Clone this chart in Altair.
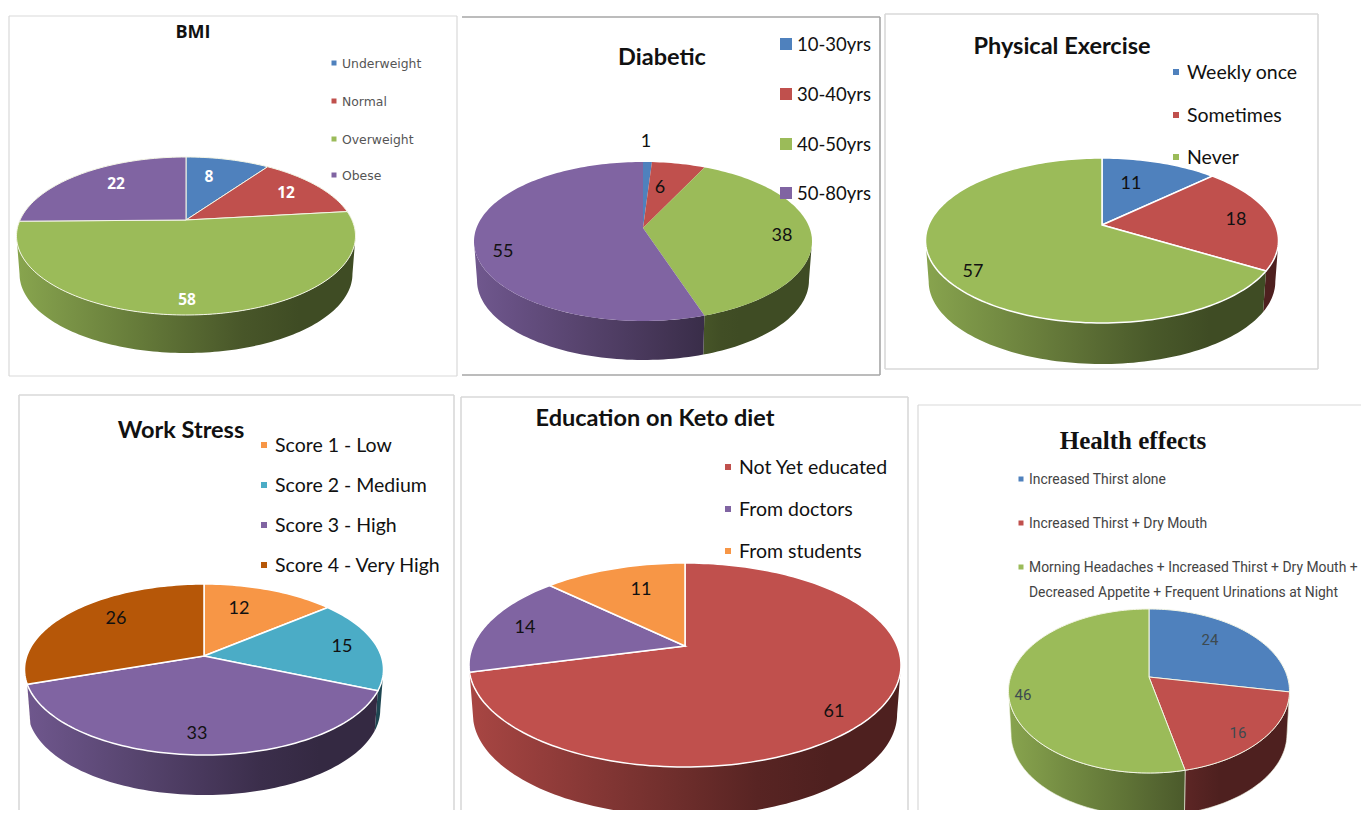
import math
import altair as alt

W, H = 1353, 802
OX, OY = 8, 8

BLUE, RED, GREEN, PURPLE = "#4F81BD", "#C0504D", "#9BBB59", "#8064A2"
TEAL, ORANGE, BURNT = "#4BACC6", "#F79646", "#B65708"

# ---------- chart values ----------
bmi_values = [8, 12, 58, 22]
bmi_names = ["Underweight", "Normal", "Overweight", "Obese"]
diabetic_values = [1, 6, 38, 55]
diabetic_names = ["10-30yrs", "30-40yrs", "40-50yrs", "50-80yrs"]
exercise_values = [11, 18, 57]
exercise_names = ["Weekly once", "Sometimes", "Never"]
stress_values = [12, 15, 33, 26]
stress_names = ["Score 1 - Low", "Score 2 - Medium", "Score 3 - High", "Score 4 - Very High"]
keto_values = [61, 14, 11]
keto_names = ["Not Yet educated", "From doctors", "From students"]
health_values = [24, 16, 46]
health_names = ["Increased Thirst alone", "Increased Thirst + Dry Mouth",
                "Morning Headaches + Increased Thirst + Dry Mouth +"]
health_name_cont = "Decreased Appetite + Frequent Urinations at Night"

# ---------- layout: pie frame (apex x, apex y, left, right, top, near edge, wall bottom) ----------
PIES = [
    dict(title="BMI", values=bmi_values, names=bmi_names, colors=[BLUE, RED, GREEN, PURPLE], flat=True,
         frame=(186, 220, 18, 357, 157, 315, 353), edge="#F4F6E6", ew=1.0, tfont="Open Sans", tsize=18,
         tpos=(193, 32), lfont="DejaVu Sans", lsize=12.4, lcolor="#555555", sw=22, lx=342, sx=334,
         ly=[63, 101, 139, 175], vcolor="#FFFFFF", vsize=15.5, vfont="Open Sans", vweight="bold",
         vpos=[(209, 176), (286, 192), (187, 299), (116, 183)]),
    dict(title="Diabetic", values=diabetic_values, names=diabetic_names, colors=[BLUE, RED, GREEN, PURPLE],
         frame=(643, 228, 474, 812, 162, 321, 360), edge=None, ew=0, tfont="Lato", tsize=23.5,
         tpos=(662, 57), lfont="Lato", lsize=18.5, lcolor="#111111", sw=144, lx=797, sx=786,
         ly=[44, 94, 144, 193], vcolor="#111111", vsize=18, vfont="Lato", vweight="normal",
         vpos=[(646, 141), (660, 187), (782, 235), (503, 251)]),
    dict(title="Physical Exercise", values=exercise_values, names=exercise_names, colors=[BLUE, RED, GREEN],
         frame=(1102, 225, 925, 1278, 158, 323, 364), edge="#FFFFFF", ew=1.5, tfont="Lato", tsize=23.5,
         tpos=(1062, 46), lfont="Lato", lsize=19.5, lcolor="#111111", sw=40, lx=1187, sx=1176,
         ly=[72, 115, 157], vcolor="#111111", vsize=18, vfont="Lato", vweight="normal",
         vpos=[(1131, 183), (1236, 219), (973, 271)]),
    dict(title="Work Stress", values=stress_values, names=stress_names, colors=[ORANGE, TEAL, PURPLE, BURNT],
         wall_hi=251.2,
         frame=(204, 656, 24, 383, 584, 755, 795), edge="#FFFFFF", ew=1.5, tfont="Lato", tsize=23.5,
         tpos=(181, 430), lfont="Lato", lsize=19.5, lcolor="#111111", sw=40, lx=275, sx=264,
         ly=[445, 485, 525, 565], vcolor="#111111", vsize=18, vfont="Lato", vweight="normal",
         vpos=[(239, 608), (342, 646), (197, 733), (116, 618)]),
    dict(title="Education on Keto diet", values=keto_values, names=keto_names, colors=[RED, PURPLE, ORANGE],
         wall_hi=255.3,
         frame=(685, 646, 469, 901, 563, 767, 816), edge="#FFFFFF", ew=1.5, tfont="Lato", tsize=23.5,
         tpos=(655, 418), lfont="Lato", lsize=19.5, lcolor="#111111", sw=40, lx=739, sx=728,
         ly=[467, 509, 551], vcolor="#111111", vsize=18, vfont="Lato", vweight="normal",
         vpos=[(834, 711), (525, 627), (641, 589)]),
    dict(title="Health effects", values=health_values, names=health_names, colors=[BLUE, RED, GREEN],
         frame=(1149, 677, 1008, 1289, 609, 773, 816), edge="#F4F6E6", ew=1.0, tfont="Liberation Serif", tsize=25,
         tpos=(1133, 440), lfont="Roboto", lsize=13.9, lcolor="#444444", sw=22, lx=1029, sx=1021,
         ly=[479, 523, 567], vcolor="#3D4A50", vsize=15, vfont="Roboto", vweight="normal",
         vpos=[(1210, 639), (1238, 732), (1023, 694)]),
]
# panel outlines: x0, y0, x1, y1, colour, width
SEGMENTS = [
    (9, 16, 457, 16, "#D9D9D9", 1.2), (9, 376, 457, 376, "#D9D9D9", 1.2),
    (9, 16, 9, 376, "#D9D9D9", 1.2), (457, 16, 457, 376, "#D9D9D9", 1.2),
    (462, 17, 880, 17, "#A6A6A6", 1.6), (462, 375, 880, 375, "#A6A6A6", 1.6),
    (880, 17, 880, 375, "#A6A6A6", 1.6),
    (885, 14, 1318, 14, "#D9D9D9", 1.6), (885, 369, 1318, 369, "#D9D9D9", 1.6),
    (885, 14, 885, 369, "#D9D9D9", 1.6), (1318, 14, 1318, 369, "#D9D9D9", 1.6),
    (19, 395, 454, 395, "#D9D9D9", 1.6), (19, 395, 19, 818, "#D9D9D9", 1.6),
    (454, 395, 454, 818, "#D9D9D9", 1.6),
    (461, 397, 908, 397, "#D9D9D9", 1.6), (461, 397, 461, 818, "#D9D9D9", 1.6),
    (908, 397, 908, 818, "#D9D9D9", 1.6),
    (918, 405, 1369, 405, "#D9D9D9", 1.2), (918, 405, 918, 818, "#D9D9D9", 1.2),
]
TEXT_DY = 1


def shade(hex_color, factor):
    r, g, b = (int(hex_color[i:i + 2], 16) for i in (1, 3, 5))
    return "#%02x%02x%02x" % (int(r * factor), int(g * factor), int(b * factor))


def wall_factor(t):
    return 0.88 - (0.88 - 0.41) * min(t / 0.75, 1.0)


def projector(frame, flat=False):
    ax, ay, left, right, top, near, bottom = frame
    T, B = ay - top, near - ay
    rx = (right - left) / 2
    if flat:
        cy, ry = (top + near) / 2, (near - top) / 2

        def point(theta):
            return ax + rx * math.sin(theta), cy - ry * math.cos(theta)
        return point, 0.0, (bottom - near), left, right
    p = (B - T) / (B + T)
    A = rx * math.sqrt(1 - p * p)
    K = T * (1 + p)

    def point(theta):
        u, v = math.sin(theta), math.cos(theta)
        return ax + A * u / (1 + p * v), ay - K * v / (1 + p * v)
    return point, p, (bottom - near), left, right


def feature(points, **props):
    ring = [[round(x - OX, 2), round(y - OY, 2)] for x, y in points]
    ring.append(ring[0])
    return {"type": "Feature", "geometry": {"type": "Polygon", "coordinates": [ring]}, "properties": props}


def sweep(a, b, step=math.radians(1.5)):
    n = max(2, int((b - a) / step) + 1)
    return [a + (b - a) * i / (n - 1) for i in range(n)]


layers = []

# panels
seg_rows = [dict(x=a - OX, y=b - OY, x2=min(c - OX, W), y2=min(d - OY, H), c=e, w=f) for a, b, c, d, e, f in SEGMENTS]
layers.append(
    alt.Chart(alt.Data(values=seg_rows)).mark_rule().encode(
        x=alt.X("x:Q", scale=None, axis=None), x2="x2:Q",
        y=alt.Y("y:Q", scale=None, axis=None), y2="y2:Q",
        color=alt.Color("c:N", scale=None), strokeWidth=alt.StrokeWidth("w:Q", scale=None),
    )
)

tops = []
for pie in PIES:
    point, p, depth, left, right = projector(pie["frame"], pie.get("flat", False))
    ax, ay = pie["frame"][0], pie["frame"][1]
    total = sum(pie["values"])
    shrink = 0.982
    lo, hi = math.acos(-p), 2 * math.pi - math.acos(-p)
    if "wall_hi" in pie:
        hi = math.radians(pie["wall_hi"])
    acc = 0
    for val, col in zip(pie["values"], pie["colors"]):
        a = 2 * math.pi * acc / total
        acc += val
        b = 2 * math.pi * acc / total
        arc = sweep(a, b)
        tops.append(feature([(ax, ay)] + [point(t) for t in arc], color=col,
                            edge=pie["edge"] or col, ew=pie["ew"]))
        wa, wb = max(a, lo), min(b, hi)
        if wb > wa:
            th = sweep(wa, wb)
            upper = [point(t) for t in th]
            lower = [(ax + (x - ax) * shrink, y + depth) for x, y in upper]
            xs = [q[0] for q in upper + lower]
            x0, x1 = min(xs), max(xs)
            stops = []
            for i in range(7):
                off = i / 6
                tx = (x0 + (x1 - x0) * off - left) / (right - left)
                stops.append(alt.GradientStop(color=shade(col, wall_factor(tx)), offset=off))
            fill = alt.Gradient(gradient="linear", stops=stops, x1=0, x2=1, y1=0, y2=0)
            wall = feature(upper + lower[::-1])
            kw = dict(stroke=pie["edge"], strokeWidth=0.6) if pie["title"] == "Health effects" else dict(strokeWidth=0)
            layers.append(
                alt.Chart(alt.Data(values=[wall])).mark_geoshape(fill=fill, **kw).project(
                    type="identity", scale=1, translate=[0, 0])
            )

layers.append(
    alt.Chart(alt.Data(values=tops)).mark_geoshape().encode(
        fill=alt.Fill("properties.color:N", scale=None),
        stroke=alt.Stroke("properties.edge:N", scale=None),
        strokeWidth=alt.StrokeWidth("properties.ew:Q", scale=None),
    ).project(type="identity", scale=1, translate=[0, 0])
)

# swatches and text
swatches, texts = [], {}


def add_text(font, weight, align, **row):
    row["y"] = row["y"] + TEXT_DY
    texts.setdefault((font, weight, align), []).append(row)


for pie in PIES:
    side = 12 if pie["sw"] == 144 else (6 if pie["sw"] == 40 else 5)
    for ly, col, name in zip(pie["ly"], pie["colors"], pie["names"]):
        swatches.append(dict(x=pie["sx"] - OX, y=ly - OY, c=col, s=side * side))
        add_text(pie["lfont"], "normal", "left", x=pie["lx"] - OX, y=ly - OY, t=name,
                 c=pie["lcolor"], s=pie["lsize"])
    add_text(pie["tfont"], "bold", "center", x=pie["tpos"][0] - OX, y=pie["tpos"][1] - OY, t=pie["title"],
             c="#111111", s=pie["tsize"])
    for (vx, vy), val in zip(pie["vpos"], pie["values"]):
        add_text(pie["vfont"], pie["vweight"], "center", x=vx - OX, y=vy - OY, t=str(val),
                 c=pie["vcolor"], s=pie["vsize"])
add_text("Roboto", "normal", "left", x=1029 - OX, y=592 - OY, t=health_name_cont,
         c="#444444", s=13.9)

layers.append(
    alt.Chart(alt.Data(values=swatches)).mark_square(opacity=1).encode(
        x=alt.X("x:Q", scale=None, axis=None), y=alt.Y("y:Q", scale=None, axis=None),
        color=alt.Color("c:N", scale=None), size=alt.Size("s:Q", scale=None),
    )
)
for (font, weight, align), rows in texts.items():
    layers.append(
        alt.Chart(alt.Data(values=rows)).mark_text(font=font, fontWeight=weight, align=align, baseline="middle").encode(
            x=alt.X("x:Q", scale=None, axis=None), y=alt.Y("y:Q", scale=None, axis=None),
            text="t:N", color=alt.Color("c:N", scale=None), size=alt.Size("s:Q", scale=None),
        )
    )

chart = alt.layer(*layers).properties(
    width=W, height=H, padding=0, background="white",
    autosize=alt.AutoSizeParams(type="none"),
).configure_view(stroke=None)

chart.save("out.html", embed_options={"renderer": "svg", "actions": False})
